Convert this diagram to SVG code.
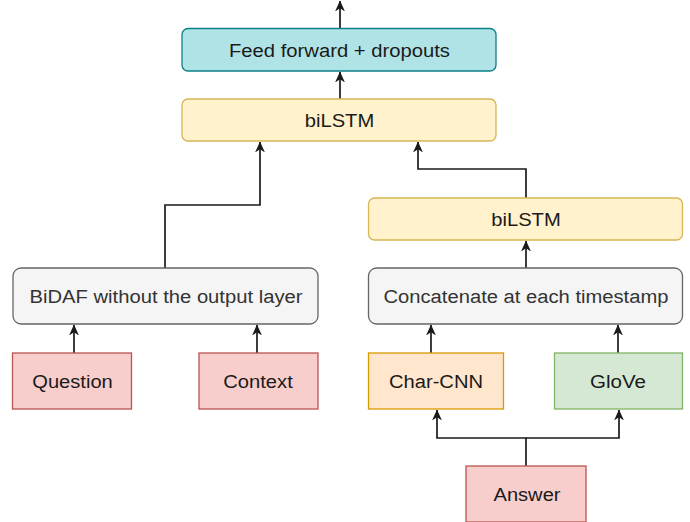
<svg xmlns="http://www.w3.org/2000/svg" width="690" height="522" viewBox="0 0 690 522">
  <style>
    .box { stroke-width: 1.3; }
    .teal { fill: #b0e3e6; stroke: #0e8088; }
    .yellow { fill: #fff2cc; stroke: #d6b656; }
    .grey { fill: #f5f5f5; stroke: #666666; }
    .red { fill: #f8cecc; stroke: #b85450; }
    .orange { fill: #ffe6cc; stroke: #d79b00; }
    .green { fill: #d5e8d4; stroke: #82b366; }
    text { font-family: "Liberation Sans", Arial, sans-serif; font-size: 18px; fill: #1a1a1a; text-anchor: middle; }
    text.muted { fill: #333333; }
    .edge { fill: none; stroke: #1a1a1a; stroke-width: 1.7; }
  </style>
  <defs>
    <marker id="arrow" viewBox="0 0 10 10" refX="9.5" refY="5" markerWidth="11" markerHeight="11" markerUnits="userSpaceOnUse" orient="auto">
      <path d="M0,0.5 L10,5 L0,9.5 L2.8,5 Z" fill="#1a1a1a"/>
    </marker>
  </defs>

  <rect width="690" height="522" fill="#ffffff"/>

  <g id="connectors">
    <path class="edge" d="M340,28 V1" marker-end="url(#arrow)"/>
    <path class="edge" d="M340,99 V72" marker-end="url(#arrow)"/>
    <path class="edge" d="M165,268 V205 H260 V142" marker-end="url(#arrow)"/>
    <path class="edge" d="M526,198 V169 H418 V142" marker-end="url(#arrow)"/>
    <path class="edge" d="M526,268 V241" marker-end="url(#arrow)"/>
    <path class="edge" d="M74,353 V325" marker-end="url(#arrow)"/>
    <path class="edge" d="M257,353 V325" marker-end="url(#arrow)"/>
    <path class="edge" d="M431,353 V325" marker-end="url(#arrow)"/>
    <path class="edge" d="M618,353 V325" marker-end="url(#arrow)"/>
    <path class="edge" d="M526,466 V438 H437 V410" marker-end="url(#arrow)"/>
    <path class="edge" d="M526,438 H619 V410" marker-end="url(#arrow)"/>
  </g>

  <g id="feed-forward">
    <rect class="box teal" x="182" y="28.5" width="314" height="42.5" rx="6"/>
    <text x="339.5" y="56.5" textLength="221" lengthAdjust="spacingAndGlyphs">Feed forward + dropouts</text>
  </g>
  <g id="bilstm-top">
    <rect class="box yellow" x="182" y="99" width="314" height="42" rx="6"/>
    <text x="339.5" y="126.5" textLength="69.5" lengthAdjust="spacingAndGlyphs">biLSTM</text>
  </g>
  <g id="bilstm-answer">
    <rect class="box yellow" x="368.5" y="198" width="314" height="42" rx="6"/>
    <text x="526" y="225.5" textLength="69.5" lengthAdjust="spacingAndGlyphs">biLSTM</text>
  </g>
  <g id="bidaf">
    <rect class="box grey" x="13" y="268" width="305" height="56" rx="8"/>
    <text class="muted" x="166" y="302.5" textLength="273" lengthAdjust="spacingAndGlyphs">BiDAF without the output layer</text>
  </g>
  <g id="concatenate">
    <rect class="box grey" x="368.5" y="268" width="314" height="56" rx="8"/>
    <text class="muted" x="526" y="302.5" textLength="285" lengthAdjust="spacingAndGlyphs">Concatenate at each timestamp</text>
  </g>
  <g id="question">
    <rect class="box red" x="12.5" y="353" width="119" height="56"/>
    <text x="72.5" y="387.5" textLength="80.5" lengthAdjust="spacingAndGlyphs">Question</text>
  </g>
  <g id="context">
    <rect class="box red" x="199" y="353" width="119" height="56"/>
    <text x="258" y="387.5" textLength="69.5" lengthAdjust="spacingAndGlyphs">Context</text>
  </g>
  <g id="char-cnn">
    <rect class="box orange" x="368.5" y="353" width="135" height="56"/>
    <text x="436" y="387.5" textLength="94" lengthAdjust="spacingAndGlyphs">Char-CNN</text>
  </g>
  <g id="glove">
    <rect class="box green" x="554.5" y="353" width="128" height="56"/>
    <text x="618" y="387.5" textLength="56" lengthAdjust="spacingAndGlyphs">GloVe</text>
  </g>
  <g id="answer">
    <rect class="box red" x="466" y="466" width="120" height="56"/>
    <text x="527" y="500.5" textLength="67" lengthAdjust="spacingAndGlyphs">Answer</text>
  </g>
</svg>
